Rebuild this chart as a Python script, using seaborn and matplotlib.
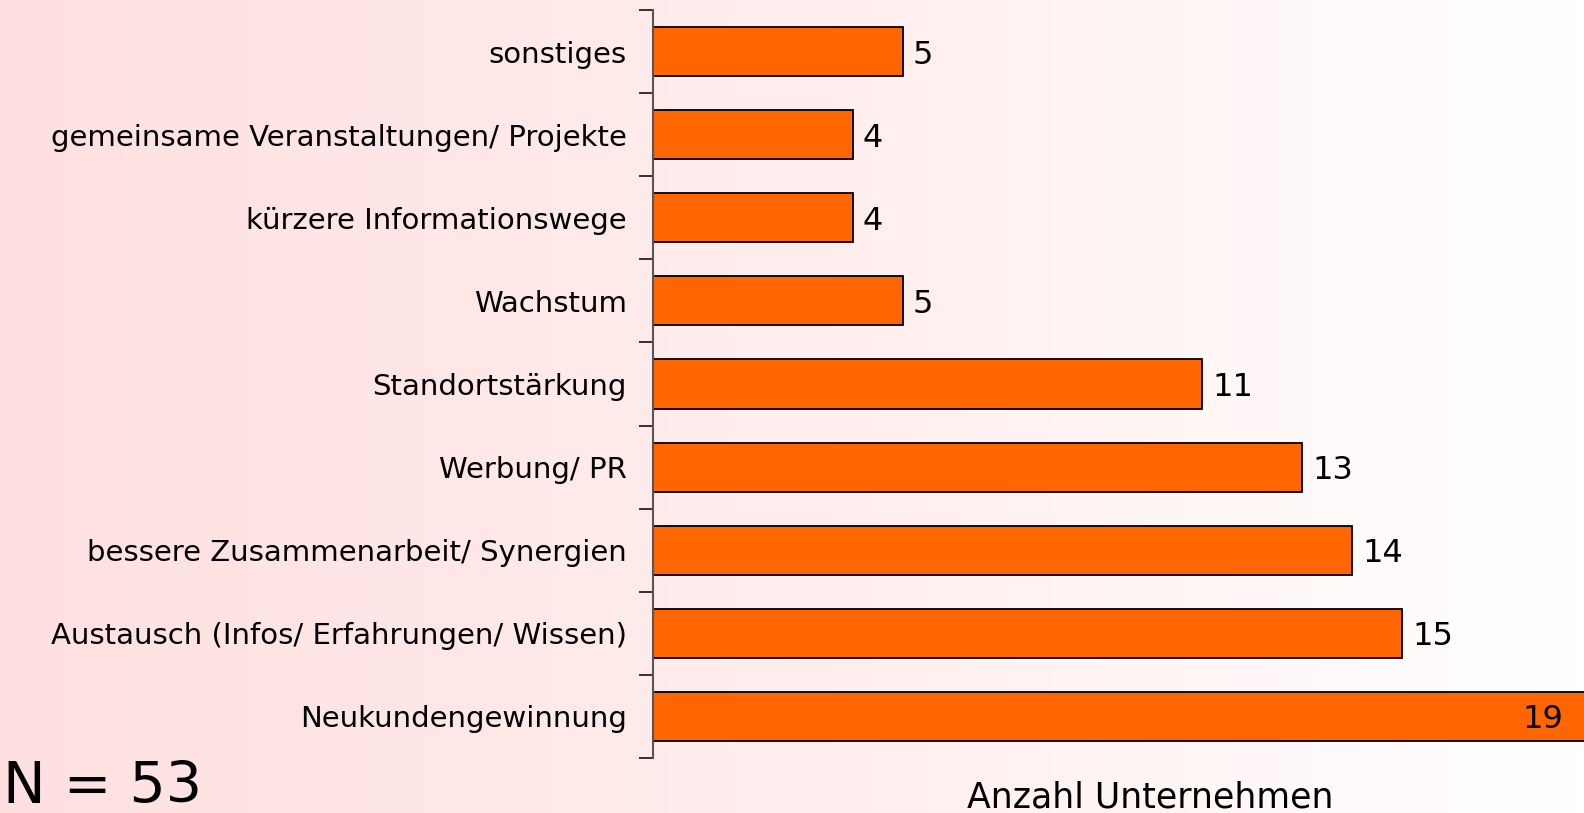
import numpy as np
import pandas as pd
import matplotlib
matplotlib.use('Agg')
import matplotlib.pyplot as plt
import seaborn as sns
from matplotlib.colors import LinearSegmentedColormap

# Daten (von oben nach unten)
kategorien = ['sonstiges',
              'gemeinsame Veranstaltungen/ Projekte',
              'kürzere Informationswege',
              'Wachstum',
              'Standortstärkung',
              'Werbung/ PR',
              'bessere Zusammenarbeit/ Synergien',
              'Austausch (Infos/ Erfahrungen/ Wissen)',
              'Neukundengewinnung']
anzahl = [5, 4, 4, 5, 11, 13, 14, 15, 19]
n_gesamt = 53

df = pd.DataFrame({'Kategorie': kategorien, 'Anzahl': anzahl})

sns.set_theme(style='white')
plt.rcParams['font.family'] = ['DejaVu Sans']

fig = plt.figure(figsize=(15.84, 8.13), dpi=100)

# Hintergrund-Verlauf rosa -> weiss
bg = fig.add_axes([0, 0, 1, 1], zorder=-10)
cmap_bg = LinearSegmentedColormap.from_list('bg', ['#FFE0E0', '#FFEDED', '#FFFFFF'])
bg.imshow(np.linspace(0, 1, 512).reshape(1, -1), cmap=cmap_bg, aspect='auto',
          extent=[0, 1, 0, 1])
bg.set_axis_off()

ax = fig.add_axes([653 / 1584, 1 - 758 / 813, 1 - 653 / 1584, (758 - 10) / 813])
ax.set_facecolor('none')

sns.barplot(data=df, x='Anzahl', y='Kategorie', orient='h', color='#FF6600',
            saturation=1, edgecolor='black', linewidth=1.3, width=0.59, ax=ax)

xmax = 18.64
ax.set_xlim(0, xmax)
ax.set_ylim(len(kategorien) - 0.5, -0.5)

for i, v in enumerate(anzahl):
    if v < xmax:
        ax.annotate(str(v), (v, i), xytext=(10, 0), textcoords='offset pixels',
                    ha='left', va='center_baseline', fontsize=23, color='black')
    else:
        ax.annotate(str(v), (xmax, i), xytext=(-21, 0), textcoords='offset pixels',
                    ha='right', va='center_baseline', fontsize=23, color='black')

ax.set_xlabel('')
ax.set_ylabel('')
ax.set_xticks([])
ax.tick_params(axis='y', which='major', length=0, pad=19, labelsize=21, labelcolor='black')
ax.set_yticks(np.arange(-0.5, len(kategorien), 1), minor=True)
ax.tick_params(axis='y', which='minor', length=10, width=1.3, color='#222222', left=True)

for s in ['top', 'right', 'bottom']:
    ax.spines[s].set_visible(False)
ax.spines['left'].set_color('#555555')
ax.spines['left'].set_linewidth(1.5)

fig.text(1150 / 1584, 6 / 813, 'Anzahl Unternehmen', ha='center', va='baseline',
         fontsize=25, color='black')
fig.text(3 / 1584, 10 / 813, f'N = {n_gesamt}', ha='left', va='baseline', fontsize=41, color='black')

fig.savefig('out.png', dpi=100)
